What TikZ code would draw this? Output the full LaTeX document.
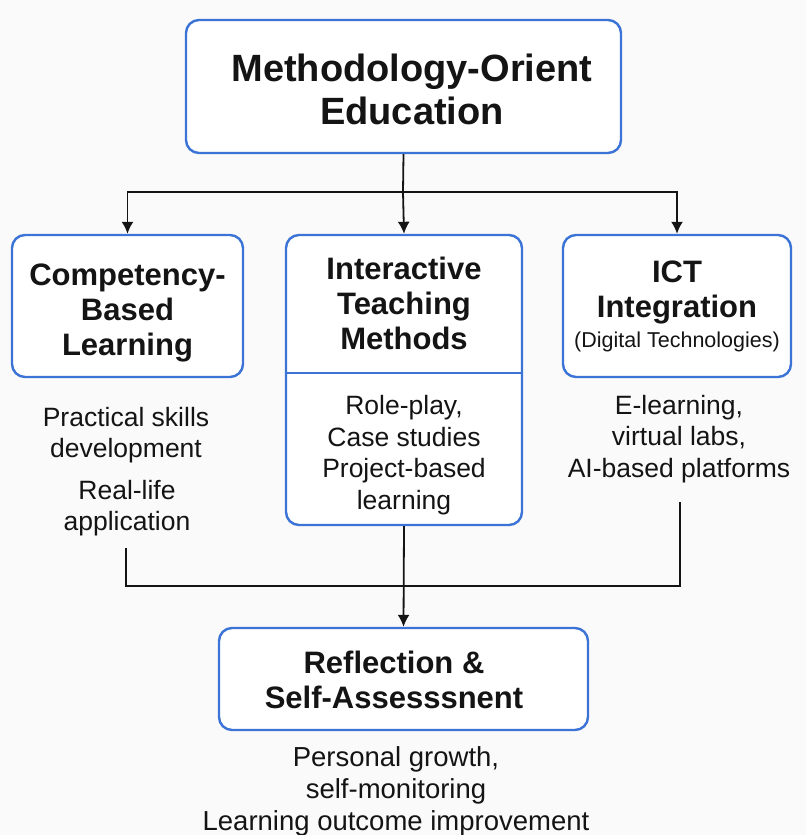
\documentclass[tikz,border=0pt]{standalone}
\usepackage{fontspec}
\setmainfont{Liberation Sans}
\usetikzlibrary{arrows.meta}
\definecolor{boxblue}{HTML}{3B73D6}
\definecolor{bgcol}{HTML}{FAFAFA}
\definecolor{ink}{HTML}{141414}
\tikzset{
  box/.style={draw=boxblue, line width=2.4pt, rounded corners=13pt, fill=white, inner sep=0pt},
  ttl/.style={align=center, text=ink, font=\bfseries\fontsize{31}{35}\selectfont},
  bodytxt/.style={align=center, text=ink, font=\fontsize{26.5}{31.5}\selectfont},
  conn/.style={draw=ink, line width=1.8pt},
  arr/.style={conn, -{Latex[length=12pt,width=12pt]}},
}
\begin{document}
\begin{tikzpicture}[x=1pt,y=-1pt]
\useasboundingbox[fill=bgcol] (0,0) rectangle (806,835);
% top
\node[box, minimum width=435pt, minimum height=133pt] (top) at (403.5,86.5) {};
\node[ttl, font=\bfseries\fontsize{38}{43}\selectfont] (toptxt) at (412,89) {Methodology-Orient\\Education};
% second row boxes
\node[box, minimum width=231pt, minimum height=142pt] (left) at (127.5,306) {};
\node[ttl] (lefttxt) at (127.5,313) {Competency-\\Based\\Learning};
\node[box, minimum width=236pt, minimum height=290pt] (mid) at (404,380) {};
\node[ttl] (midtxt) at (404,303) {Interactive\\Teaching\\Methods};
\node[bodytxt] (midbody) at (404,455) {Role-play,\\Case studies\\Project-based\\learning};
\node[box, minimum width=228pt, minimum height=142pt] (right) at (677,306) {};
\node[ttl] (righttxt) at (677,292) {ICT\\Integration};
\node[text=ink, font=\fontsize{21.5}{24}\selectfont] (rightsub) at (677,342) {(Digital Technologies)};
\coordinate (dl) at (286,373);
\coordinate (dr) at (522,373);
\draw[draw=boxblue, line width=2.4pt] (dl) -- (dr);
% texts under side boxes
\node[bodytxt] (ltxt1) at (126,435) {Practical skills\\development};
\node[bodytxt] (ltxt2) at (127,508) {Real-life\\application};
\node[bodytxt] (rtxt) at (679,439) {E-learning,\\virtual labs,\\AI-based platforms};
% bottom box
\node[box, minimum width=369pt, minimum height=102pt] (bot) at (403.5,679) {};
\node[ttl] (bottxt) at (394,680) {Reflection \&\\Self-Assesssnent};
\node[bodytxt, font=\fontsize{27.5}{32}\selectfont] (bottom) at (396,791) {Personal growth,\\self-monitoring\\Learning outcome improvement};
% connectors top
\coordinate (j1) at (403,192);
\draw[conn] (top.south) -- (j1);
\draw[arr] (j1) -| (left.north);
\draw[arr] (j1) -| (right.north);
\draw[arr] (j1) -- (mid.north);
% connectors bottom
\coordinate (lb) at (126,548);
\coordinate (lc) at (126,586);
\coordinate (rc) at (680,586);
\coordinate (rb) at (680,502);
\draw[conn] (lb) -- (lc) -- (rc) -- (rb);
\draw[arr] (mid.south) -- (bot.north);
\end{tikzpicture}
\end{document}
